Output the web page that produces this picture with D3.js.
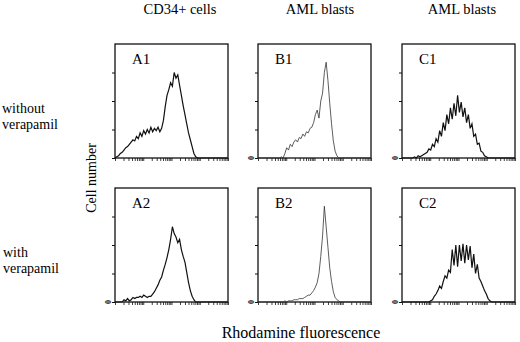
<!DOCTYPE html>
<html>
<head>
<meta charset="utf-8">
<script src="https://cdn.jsdelivr.net/npm/d3@7"></script>
<style>
  svg text { font-family: "Liberation Serif", Tinos, "Times New Roman", serif !important; }
</style>
</head>
<body style="margin:0">
<div id="chart"></div>
<script>
// column titles, row labels, panel labels
var colTitles = ["CD34+ cells", "AML blasts", "AML blasts"];
var rowLabels = [["without", "verapamil"], ["with", "verapamil"]];
var panelNames = [["A1", "B1", "C1"], ["A2", "B2", "C2"]];

// histogram counts, 64 channels each (log fluorescence), y in % of full scale
var countsA1 = [0,1,2,4,5,7,9,10,12,14,16,15,19,17,22,19,24,21,25,22,27,23,26,24,27,23,26,33,45,55,60,66,
                63,75,70,73,64,55,46,38,30,22,16,10,4,1,0,0,0,0,0,0,0,0,0,0,0,0,0,0,0,0,0,0];
var countsB1 = [0,0,0,0,0,0,0,0,0,0,0,0,0,1,0,4,9,7,12,10,14,16,14,18,17,21,19,23,22,26,27,31,
                38,42,35,50,57,75,84,68,48,30,15,6,2,0,0,0,0,0,0,0,0,0,0,0,0,0,0,0,0,0,0,0];
var countsC1 = [0,0,0,0,0,0,0,1,0,2,1,2,3,4,5,8,7,12,10,17,14,24,19,31,24,38,30,44,34,48,37,55,
                40,49,36,44,31,38,26,30,19,21,12,13,6,5,2,1,0,0,0,0,0,0,0,0,0,0,0,0,0,0,0,0];
var countsA2 = [0,0,0,0,0,2,1,3,1,2,4,3,4,4,5,4,6,5,4,5,5,7,9,12,15,19,22,28,33,39,46,55,
                66,60,57,52,55,46,40,35,26,17,10,5,2,0,0,0,0,0,0,0,0,0,0,0,0,0,0,0,0,0,0,0];
var countsB2 = [0,0,0,0,0,0,0,0,0,0,0,0,0,0,0,1,0,1,1,1,2,2,2,3,3,3,4,5,6,6,8,10,
                13,17,25,40,58,84,66,48,30,18,9,4,2,1,0,0,0,0,0,0,0,0,0,0,0,0,0,0,0,0,0,0];
var countsC2 = [0,0,0,0,0,0,0,0,0,0,0,0,0,0,0,0,1,2,5,7,10,14,12,18,23,21,28,26,46,32,50,31,
                50,36,51,34,50,37,49,30,42,25,33,21,18,14,10,7,3,1,0,0,0,0,0,0,0,0,0,0,0,0,0,0];
var panelCounts = [[countsA1, countsB1, countsC1], [countsA2, countsB2, countsC2]];

var yTicks = [0, 25, 50, 75];

var fontName = "Liberation Serif";

// layout
var W = 520, H = 342;
var colX = [115, 258, 402];
var rowY = [44, 188];
var pw = 113, ph = 114;

var svg = d3.select("#chart").append("svg")
    .attr("width", W)
    .attr("height", H)
    .style("display", "block");

// Scales
var xBin = d3.scaleLinear().domain([0, 63]).range([0, pw]);
var xLog = d3.scaleLog().domain([1, 10000]).range([0, pw]);
var y = d3.scaleLinear().domain([0, 100]).range([ph, 0]);

var minorTicks = [];
[1, 10, 100, 1000].forEach(function(dec) {
  for (var m = 1; m < 10; m++) minorTicks.push(dec * m);
});
minorTicks.push(10000);

var histLine = d3.line()
    .x(function(d, i) { return xBin(i); })
    .y(function(d) { return y(d); });

for (var r = 0; r < 2; r++) {
  for (var c = 0; c < 3; c++) {
    var g = svg.append("g")
        .attr("transform", "translate(" + colX[c] + "," + rowY[r] + ")");

    // x axis (log ticks, no labels)
    g.append("g")
        .call(function(a) {
          a.attr("transform", "translate(0," + ph + ")")
           .call(d3.axisBottom(xLog).tickValues(minorTicks).tickSize(3).tickFormat(function() { return ""; }));
          a.select(".domain").remove();
          a.selectAll("text").remove();
        })
        .selectAll("line")
        .attr("stroke", "#111")
        .attr("stroke-width", 0.8);

    // y axis
    g.append("g")
        .call(function(a) {
          a.call(d3.axisLeft(y).tickValues(yTicks).tickSize(3).tickFormat(function() { return ""; }));
          a.select(".domain").remove();
          a.selectAll("text").remove();
        })
        .selectAll("line")
        .attr("stroke", "#111")
        .attr("stroke-width", 1);

    // frame
    g.append("rect")
        .attr("width", pw)
        .attr("height", ph)
        .attr("fill", "none")
        .attr("stroke", "#111")
        .attr("stroke-width", 1.3);

    // histogram
    g.append("path")
        .attr("d", histLine(panelCounts[r][c]))
        .attr("fill", "none")
        .attr("stroke", c == 1 ? "#333" : "#111")
        .attr("stroke-width", c == 1 ? 0.8 : 1.2);

    // zero label
    if (!(r == 0 && c == 0)) {
      g.append("text")
          .attr("transform", "translate(-7," + y(0) + ")rotate(-90)")
          .attr("text-anchor", "middle")
          .attr("dy", "0.35em")
          .style("font-family", fontName)
          .style("font-size", "8px")
          .style("font-weight", "bold")
          .text("0");
    }

    // panel label
    g.append("text")
        .attr("x", 17)
        .attr("y", 20)
        .style("font-family", fontName)
        .style("font-size", "15px")
        .text(panelNames[r][c]);
  }
}

// Column titles
svg.selectAll(".coltitle")
  .data(colTitles)
  .enter().append("text")
    .attr("class", "coltitle")
    .attr("x", function(d, i) { return [180, 320, 462][i]; })
    .attr("y", 14)
    .attr("text-anchor", "middle")
    .style("font-family", fontName)
    .style("font-size", "14.5px")
    .text(function(d) { return d; });

// Row labels
rowLabels.forEach(function(lines, r) {
  var base = [113, 257][r];
  lines.forEach(function(t, k) {
    svg.append("text")
      .attr("x", r == 0 ? 2 : 3)
      .attr("y", base + k * 15.5)
      .style("font-family", fontName)
      .style("font-size", "14px")
      .text(t);
  });
});

// Axis titles
svg.append("text")
    .attr("text-anchor", "middle")
    .attr("transform", "translate(96,178)rotate(-90)")
    .style("font-family", fontName)
    .style("font-size", "14px")
    .text("Cell number");

svg.append("text")
    .attr("text-anchor", "middle")
    .attr("x", 301)
    .attr("y", 338)
    .style("font-family", fontName)
    .style("font-size", "16px")
    .text("Rhodamine fluorescence");
</script>
</body>
</html>
